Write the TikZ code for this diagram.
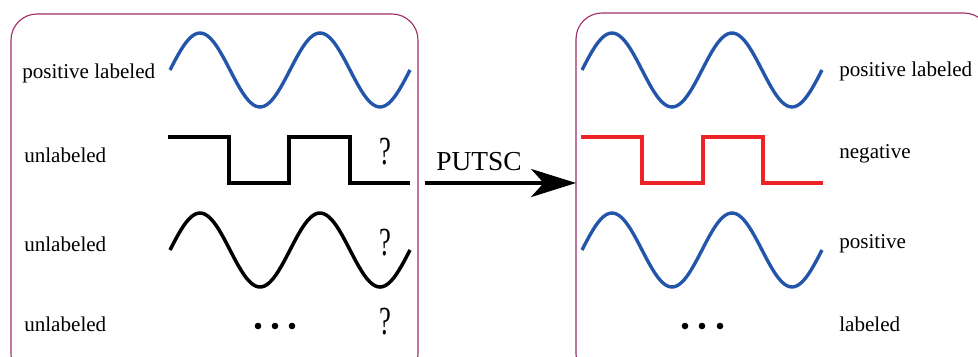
\documentclass[tikz,border=0pt]{standalone}
\usepackage{fontspec}
\setmainfont{Liberation Serif}
\usepackage{xcolor}
\usetikzlibrary{arrows.meta}

\definecolor{boxpurple}{RGB}{160,45,105}
\definecolor{waveblue}{RGB}{35,85,170}
\definecolor{wavered}{RGB}{238,35,35}

\begin{document}
\begin{tikzpicture}[x=0.025cm, y=-0.025cm,
  setbox/.style={draw=boxpurple, line width=0.8pt, rounded corners=0.65cm},
  bluewave/.style={draw=waveblue, line width=2.4pt},
  blackwave/.style={draw=black, line width=2.2pt},
  redwave/.style={draw=wavered, line width=2.2pt},
  lbl/.style={font=\fontsize{15}{18}\selectfont, inner sep=0pt},
  qmark/.style={font=\fontsize{21}{25}\selectfont, inner sep=0pt}]

\useasboundingbox (0,0) rectangle (978,356);
\clip (0,0) rectangle (978,356);

% Boxes
\draw[setbox] (11,14) rectangle (418,380);
\draw[setbox] (576,13) rectangle (990,380);

% Left box: input waves
\draw[bluewave] plot[domain=170:410, samples=90] (\x, {70-37*sin(3*(\x-170))});
\draw[blackwave] (168,137) -- (229,137) -- (229,183) -- (289,183) -- (289,137)
  -- (350,137) -- (350,183) -- (410,183);
\draw[blackwave, line width=2.5pt] plot[domain=170:410, samples=90] (\x, {250-37*sin(3*(\x-170))});
\fill (258,326) circle (3.3) (275,326) circle (3.3) (292,326) circle (3.3);

% Left labels
\node[lbl, anchor=west] (inpos) at (22,73) {positive labeled};
\node[lbl, anchor=west] (inunA) at (24,155) {unlabeled};
\node[lbl, anchor=west] (inunB) at (24,244) {unlabeled};
\node[lbl, anchor=west] (inunC) at (24,324) {unlabeled};

% Question marks
\node[qmark] (qA) at (385,152) {\scalebox{0.9}[1.35]{?}};
\node[qmark] (qB) at (385,243) {\scalebox{0.9}[1.35]{?}};
\node[qmark] (qC) at (385,322) {\scalebox{0.9}[1.35]{?}};

% Arrow
\coordinate (arrowstart) at (425,183);
\coordinate (arrowend) at (576,183);
\draw[line width=2.2pt, -{Stealth[length=32pt, width=20pt, inset=9pt]}]
  (arrowstart) -- (arrowend);
\node[font=\fontsize{19.5}{23}\selectfont, inner sep=0pt] (putsc) at (479,162) {PUTSC};

% Right box: output waves
\draw[bluewave] plot[domain=582:822, samples=90] (\x, {70-37*sin(3*(\x-582))});
\draw[redwave] (581,137) -- (642,137) -- (642,183) -- (703,183) -- (703,137)
  -- (763,137) -- (763,183) -- (823,183);
\draw[bluewave] plot[domain=582:822, samples=90] (\x, {250-37*sin(3*(\x-582))});
\fill (685,326) circle (3.3) (702,326) circle (3.3) (720,326) circle (3.3);

% Right labels
\node[lbl, anchor=west] (outpos) at (839,71) {positive labeled};
\node[lbl, anchor=west] (outneg) at (839,154) {negative};
\node[lbl, anchor=west] (outposB) at (839,244) {positive};
\node[lbl, anchor=west] (outlab) at (839,324) {labeled};

\end{tikzpicture}
\end{document}
